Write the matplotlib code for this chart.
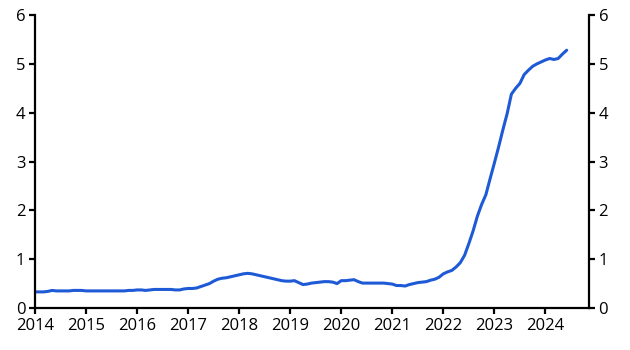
import numpy as np
import matplotlib
matplotlib.use("Agg")
import matplotlib.pyplot as plt

# -----------------------------
# Data (monthly, Jan 2014 - Jun 2024)
# -----------------------------
start_year = 2014
values = [
    # 2014
    0.33, 0.33, 0.33, 0.34, 0.36, 0.35, 0.35, 0.35, 0.35, 0.36, 0.36, 0.36,
    # 2015
    0.35, 0.35, 0.35, 0.35, 0.35, 0.35, 0.35, 0.35, 0.35, 0.35, 0.36, 0.36,
    # 2016
    0.37, 0.37, 0.36, 0.37, 0.38, 0.38, 0.38, 0.38, 0.38, 0.37, 0.37, 0.39,
    # 2017
    0.40, 0.40, 0.41, 0.44, 0.47, 0.50, 0.55, 0.59, 0.61, 0.62, 0.64, 0.66,
    # 2018
    0.68, 0.70, 0.71, 0.70, 0.68, 0.66, 0.64, 0.62, 0.60, 0.58, 0.56, 0.55,
    # 2019
    0.55, 0.56, 0.52, 0.48, 0.49, 0.51, 0.52, 0.53, 0.54, 0.54, 0.53, 0.50,
    # 2020
    0.56, 0.56, 0.57, 0.58, 0.54, 0.51, 0.51, 0.51, 0.51, 0.51, 0.51, 0.50,
    # 2021
    0.49, 0.46, 0.46, 0.45, 0.48, 0.50, 0.52, 0.53, 0.54, 0.57, 0.59, 0.63,
    # 2022
    0.70, 0.74, 0.77, 0.84, 0.93, 1.08, 1.32, 1.58, 1.88, 2.12, 2.32, 2.65,
    # 2023
    2.97, 3.30, 3.65, 3.98, 4.38, 4.50, 4.60, 4.78, 4.87, 4.95, 5.00, 5.04,
    # 2024
    5.08, 5.11, 5.09, 5.11, 5.20, 5.28,
]
year_ticks = list(range(2014, 2025))
y_ticks = [0, 1, 2, 3, 4, 5, 6]

dates = start_year + np.arange(len(values)) / 12.0

# -----------------------------
# Plot
# -----------------------------
plt.rcParams["font.family"] = ["Open Sans", "DejaVu Sans"]

fig = plt.figure(figsize=(6.3, 3.5), dpi=100)
ax = fig.add_axes([0.0556, 0.12, 0.879, 0.837])

ax.plot(dates, values, color="#1f5ad6", linewidth=2.2, solid_capstyle="round")

ax.set_xlim(2014, 2024.85)
ax.set_ylim(0, 6)
ax.set_xticks(year_ticks)
ax.set_xticklabels([str(y) for y in year_ticks])
ax.set_yticks(y_ticks)

ax.spines["top"].set_visible(False)
for side in ["left", "right", "bottom"]:
    ax.spines[side].set_linewidth(1.6)
    ax.spines[side].set_color("black")

ax.tick_params(axis="both", direction="out", length=4, width=1.6,
               labelsize=12, colors="black")
ax.tick_params(axis="y", right=True, labelright=True, pad=3)
ax.tick_params(axis="x", pad=3)

fig.savefig("out.png", dpi=100)
